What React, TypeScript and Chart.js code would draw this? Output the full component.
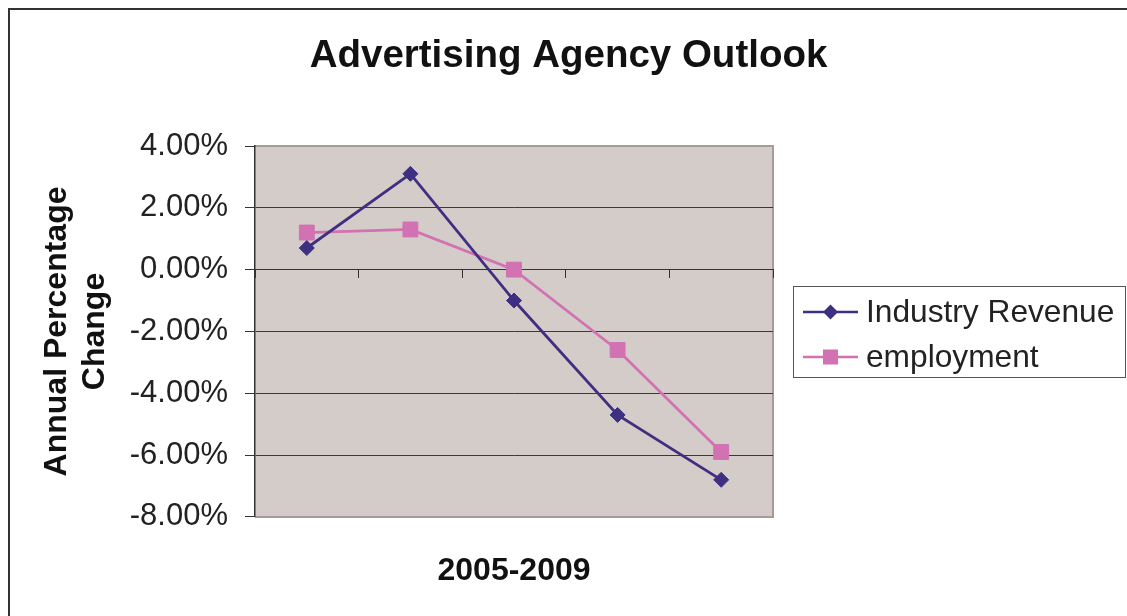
import React, { useEffect, useRef } from "react";
import { Chart, registerables } from "chart.js";

Chart.register(...registerables);

const categories = ["2005", "2006", "2007", "2008", "2009"];
const industryRevenue = [0.7, 3.1, -1.0, -4.7, -6.8];
const employment = [1.2, 1.3, 0.0, -2.6, -5.9];
const seriesNames = ["Industry Revenue", "employment"];
const yTicks = { min: -8, max: 4, step: 2 };

const FONT = "'Liberation Sans', Arial, sans-serif";
const REV_COLOR = "#3F2F80";
const EMP_COLOR = "#D272B2";
const PLOT_BG = "#D4CCC9";
const PLOT_EDGE = "#A49C97";
const DARK = "#333333";

const plotBgPlugin = {
  id: "plotBg",
  beforeDraw(chart: any) {
    const { ctx, chartArea: a } = chart;
    ctx.save();
    ctx.fillStyle = PLOT_BG;
    ctx.fillRect(a.left, a.top, a.right - a.left, a.bottom - a.top);
    ctx.strokeStyle = PLOT_EDGE;
    ctx.lineWidth = 2;
    ctx.beginPath();
    ctx.moveTo(a.left, a.top);
    ctx.lineTo(a.right, a.top);
    ctx.lineTo(a.right, a.bottom);
    ctx.lineTo(a.left, a.bottom);
    ctx.stroke();
    ctx.restore();
  },
};

const legendPlugin = {
  id: "boxLegend",
  afterDraw(chart: any) {
    const { ctx } = chart;
    ctx.save();
    ctx.strokeStyle = "#555";
    ctx.lineWidth = 1;
    ctx.strokeRect(783.5, 276.5, 332, 91);
    chart.data.datasets.forEach((ds: any, i: number) => {
      const y = 302 + i * 45;
      ctx.strokeStyle = ds.borderColor;
      ctx.lineWidth = 2.5;
      ctx.beginPath();
      ctx.moveTo(793, y);
      ctx.lineTo(848, y);
      ctx.stroke();
      ctx.fillStyle = ds.borderColor;
      const cx = 820.5;
      if (i === 0) {
        const r = 7.5;
        ctx.beginPath();
        ctx.moveTo(cx, y - r);
        ctx.lineTo(cx + r, y);
        ctx.lineTo(cx, y + r);
        ctx.lineTo(cx - r, y);
        ctx.closePath();
        ctx.fill();
      } else {
        ctx.fillRect(cx - 7.5, y - 7.5, 15, 15);
      }
      ctx.fillStyle = "#222";
      ctx.font = `31.7px ${FONT}`;
      ctx.textBaseline = "middle";
      ctx.textAlign = "left";
      ctx.fillText(ds.label, 856, y + 1);
    });
    ctx.restore();
  },
};

export default function App() {
  const ref = useRef<HTMLCanvasElement | null>(null);

  useEffect(() => {
    if (!ref.current) return;
    const chart = new Chart(ref.current, {
      type: "line",
      data: {
        labels: categories,
        datasets: [
          {
            label: seriesNames[0],
            data: industryRevenue,
            borderColor: REV_COLOR,
            backgroundColor: REV_COLOR,
            borderWidth: 2.8,
            pointStyle: "rectRot",
            pointRadius: 7.5,
            pointBorderWidth: 1,
            tension: 0,
          },
          {
            label: seriesNames[1],
            data: employment,
            borderColor: EMP_COLOR,
            backgroundColor: EMP_COLOR,
            borderWidth: 2.8,
            pointStyle: "rect",
            pointRadius: 10.5,
            pointBorderWidth: 1,
            tension: 0,
          },
        ],
      },
      options: {
        responsive: false,
        animation: false,
        events: [],
        layout: { padding: { left: 0, right: 0, top: 0, bottom: 25.5 } },
        plugins: {
          legend: { display: false },
          tooltip: { enabled: false },
          title: {
            display: true,
            text: "Advertising Agency Outlook",
            color: "#111",
            font: { family: FONT, size: 38.5, weight: "bold", lineHeight: 1.2 },
            padding: { top: 23, bottom: 66.8 },
          },
        },
        scales: {
          x: {
            type: "category",
            position: "bottom",
            offset: true,
            grid: { display: false, drawTicks: false },
            border: { display: false },
            ticks: { display: false },
            title: {
              display: true,
              text: "2005-2009",
              color: "#111",
              font: { family: FONT, size: 32, weight: "bold", lineHeight: 1.19 },
              padding: { top: 35.5, bottom: 0 },
            },
          },
          x2: {
            type: "category",
            labels: categories,
            position: { y: 0 },
            offset: true,
            grid: {
              display: true,
              drawOnChartArea: false,
              drawTicks: true,
              tickLength: 8,
              offset: true,
              color: DARK,
              tickColor: DARK,
              lineWidth: 1,
            },
            border: { display: true, color: DARK, width: 1 },
            ticks: { display: false },
          },
          y: {
            min: yTicks.min,
            max: yTicks.max,
            afterFit(scale: any) {
              scale.width = 245;
            },
            ticks: {
              stepSize: yTicks.step,
              padding: 17,
              color: "#222",
              font: { family: FONT, size: 31 },
              callback: (v: any) => Number(v).toFixed(2) + "%",
            },
            grid: {
              color: (c: any) =>
                c.tick && (c.tick.value === yTicks.max || c.tick.value === yTicks.min)
                  ? PLOT_EDGE
                  : "#3a3a3a",
              tickColor: DARK,
              tickLength: 10,
              lineWidth: 1,
            },
            border: { display: true, color: DARK, width: 1.5 },
            title: {
              display: true,
              text: ["Annual Percentage", "Change"],
              color: "#111",
              font: { family: FONT, size: 32, weight: "bold", lineHeight: 1.19 },
              padding: { top: 28, bottom: 0 },
            },
          },
          rightSpace: {
            type: "linear",
            position: "right",
            display: true,
            afterFit(scale: any) {
              scale.width = 354;
            },
            grid: { display: false, drawTicks: false },
            border: { display: false },
            ticks: { display: false },
          },
        },
      } as any,
      plugins: [plotBgPlugin, legendPlugin],
    });
    return () => chart.destroy();
  }, []);

  return (
    <div
      style={{
        position: "fixed",
        left: 8,
        top: 8,
        width: 1119,
        height: 608,
        borderTop: "2px solid #333",
        borderLeft: "2px solid #333",
        boxSizing: "border-box",
        background: "#fff",
      }}
    >
      <canvas ref={ref} width={1117} height={606} style={{ display: "block", width: 1117, height: 606 }} />
    </div>
  );
}
